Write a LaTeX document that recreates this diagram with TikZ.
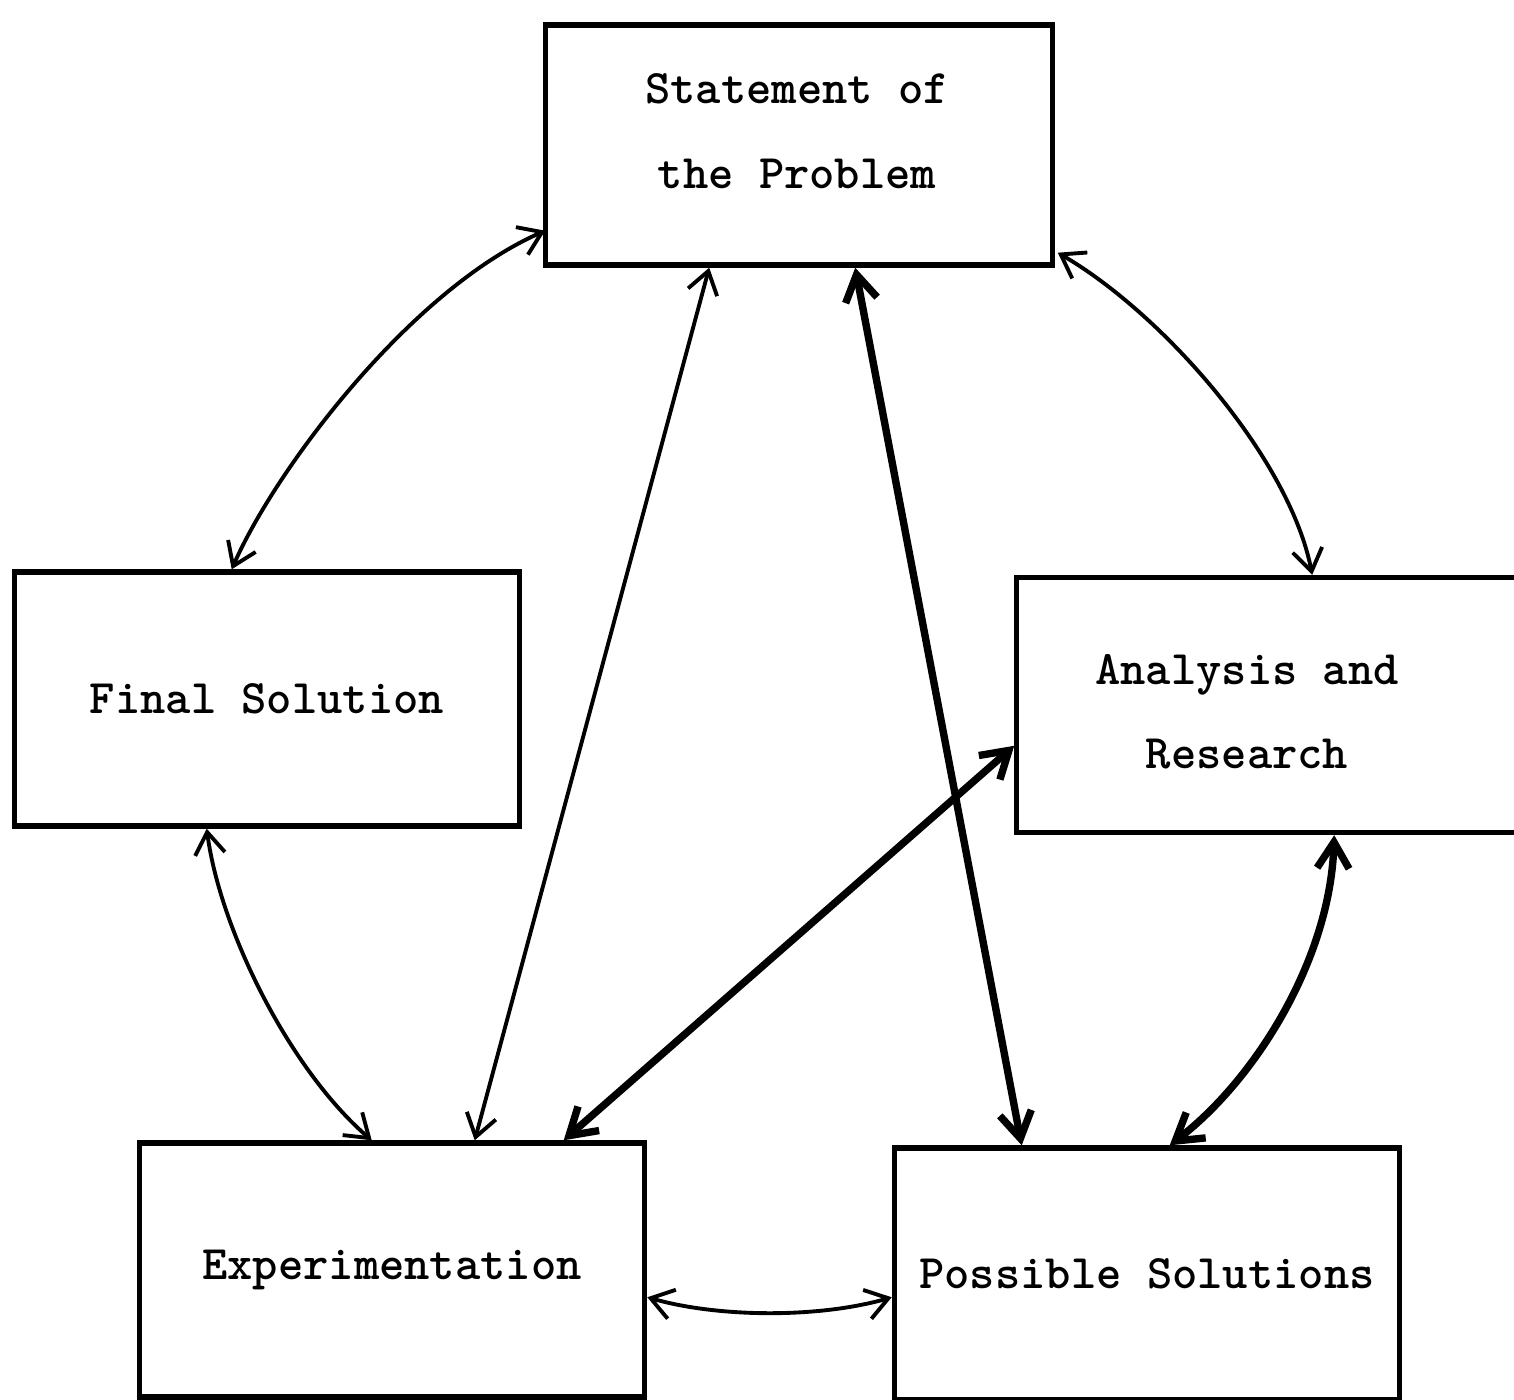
\documentclass[tikz,border=0pt]{standalone}
\usepackage{fontspec}
\usepackage{tikz}
\usetikzlibrary{positioning,arrows.meta,calc}

\begin{document}
\begin{tikzpicture}[x=0.01cm,y=-0.01cm,font=\ttfamily\bfseries\fontsize{13.7}{24}\selectfont]
\tikzset{
  box/.style={draw=black,line width=1.5pt,align=center,inner sep=0pt},
  lbl/.style={align=center,inner sep=0pt},
  arr/.style={{Straight Barb[length=2.2mm,width=3mm]}-{Straight Barb[length=2.2mm,width=3mm]},line width=1.1pt},
  thickarr/.style={{Straight Barb[length=2.6mm,width=3.2mm]}-{Straight Barb[length=2.6mm,width=3.2mm]},line width=2.1pt}
}
\useasboundingbox (0,0) rectangle (1514,1400);
\clip (0,0) rectangle (1514,1400);

\node[box,minimum width=5.06cm,minimum height=2.4cm] (prob) at (799,145) {};
\node[lbl] (probtxt) at (797,131) {Statement of\\the Problem};
\node[box,minimum width=5.05cm,minimum height=2.54cm] (final) at (267,699) {Final Solution};
\node[box,minimum width=5.06cm,minimum height=2.55cm] (anal) at (1270,705) {};
\node[lbl] (analtxt) at (1247,712) {Analysis and\\Research};
\node[box,minimum width=5.05cm,minimum height=2.54cm] (expt) at (392,1270) {Experimentation};
\node[box,minimum width=5.05cm,minimum height=2.52cm] (poss) at (1147,1274) {Possible Solutions};

% curved links round the outside
\draw[arr] ($(final.north west)+(220,0)$) .. controls (275,470) and (410,290) .. ($(prob.south west)+(2,-37)$);
\draw[arr] ($(prob.south east)+(3,-15)$) .. controls (1165,315) and (1290,460) .. ($(anal.north west)+(298,0)$);
\draw[arr] ($(final.south west)+(195,0)$) .. controls (220,930) and (290,1070) .. ($(expt.north west)+(235,0)$);
\draw[thickarr] ($(anal.south west)+(320,0)$) .. controls (1330,960) and (1255,1080) .. ($(poss.north west)+(278,0)$);
\draw[arr] ($(expt.north east)+(0,157)$) .. controls (720,1318) and (820,1318) .. ($(poss.north west)+(0,152)$);

% straight links through the middle
\draw[arr] ($(prob.south west)+(166,0)$) -- ($(expt.north west)+(338,0)$);
\draw[thickarr] ($(prob.south west)+(312,0)$) -- ($(poss.north west)+(130,0)$);
\draw[thickarr] ($(anal.north west)+(0,171)$) -- ($(expt.north west)+(427,0)$);
\end{tikzpicture}
\end{document}
